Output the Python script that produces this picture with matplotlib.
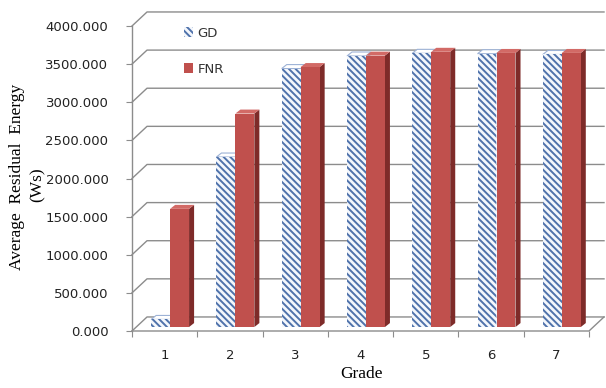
import numpy as np
import matplotlib.pyplot as plt
from matplotlib.patches import Polygon, Patch

grades = ['1', '2', '3', '4', '5', '6', '7']
gd = [100, 2230, 3390, 3555, 3590, 3585, 3575]
fnr = [1550, 2800, 3410, 3560, 3610, 3595, 3595]
yticks = np.arange(0, 4001, 500)

plt.rcParams['hatch.linewidth'] = 1.4
stripes = chr(92) * 5

W, H = 606, 388
fig = plt.figure(figsize=(W / 100, H / 100), dpi=100)
ax = fig.add_axes([132 / W, 1 - 331 / H, (589 - 132) / W, (331 - 26) / H])
ax.set_xlim(0.5, 7.5)
ax.set_ylim(0, 4000)
for s in ax.spines.values():
    s.set_visible(False)

grid_c = '#8c8c8c'
# back wall offset (fake 3d depth)
dep_x, dep_y = 0.23, 184
for v in yticks:
    ax.plot([0.5, 0.5 + dep_x, 7.5 + dep_x], [v, v + dep_y, v + dep_y],
            color=grid_c, lw=1, clip_on=False, zorder=1)
ax.plot([0.5, 7.5, 7.5 + dep_x], [0, 0, dep_y], color=grid_c, lw=1,
        clip_on=False, zorder=1)
ax.plot([0.5, 0.5], [0, 4000], color=grid_c, lw=1, clip_on=False, zorder=1)

ax.set_yticks(yticks)
ax.set_yticklabels([f'{v:.3f}' for v in yticks])
ax.tick_params(axis='y', length=4, color=grid_c, pad=13, labelsize=9.5,
               labelcolor='#222222')
ax.set_xticks(np.arange(0.5, 7.6, 1))
ax.set_xticklabels([])
ax.tick_params(axis='x', length=4, color=grid_c)
ax.set_xticks(np.arange(1, 8), minor=True)
ax.set_xticklabels(grades, minor=True)
ax.tick_params(axis='x', which='minor', length=0, pad=13, labelsize=9.5,
               labelcolor='#222222')

# bars
x = np.arange(1, 8)
bw = 0.29
sx, sy = 0.077, 52
base = 52
gd_face, gd_hatch, gd_side = '#f4f7fc', '#4f72ab', '#9db2d6'
fnr_face, fnr_side, fnr_top = '#c0504d', '#7e2b29', '#d26a66'


def bar3d(x0, v, face, side, top, hatch, z, hatch_side=None):
    x1 = x0 + bw
    top_y = base + v
    if hatch:
        ax.add_patch(Polygon([(x1, base), (x1 + sx, base + sy), (x1 + sx, top_y + sy), (x1, top_y)],
                             facecolor=face, edgecolor=hatch_side, hatch=hatch, lw=0, zorder=z))
        ax.add_patch(Polygon([(x0, top_y), (x0 + sx, top_y + sy), (x1 + sx, top_y + sy), (x1, top_y)],
                             facecolor='white', edgecolor=hatch_side, lw=0.8, zorder=z))
    else:
        ax.add_patch(Polygon([(x1, base), (x1 + sx, base + sy), (x1 + sx, top_y + sy), (x1, top_y)],
                             facecolor=side, lw=0, zorder=z))
        ax.add_patch(Polygon([(x0, top_y), (x0 + sx, top_y + sy), (x1 + sx, top_y + sy), (x1, top_y)],
                             facecolor=top, lw=0, zorder=z))


for i in range(len(x)):
    bar3d(x[i] - 0.207, gd[i], gd_face, None, None, stripes, 2.5, gd_side)
    bar3d(x[i] + 0.084, fnr[i], None, fnr_side, fnr_top, None, 3.5)

ax.bar(x - 0.207, gd, width=bw, bottom=base, align='edge', facecolor=gd_face,
       edgecolor=gd_hatch, hatch=stripes, lw=0, zorder=3)
ax.bar(x + 0.084, fnr, width=bw, bottom=base, align='edge', facecolor=fnr_face,
       lw=0, zorder=4)

handles = [Patch(facecolor=gd_face, edgecolor=gd_hatch, hatch=stripes, lw=0),
           Patch(facecolor=fnr_face, lw=0)]
fig.legend(handles, ['GD', 'FNR'], loc='upper left',
           bbox_to_anchor=(172 / W, 1 - 15 / H), frameon=False,
           handlelength=0.7, handleheight=0.8, handletextpad=0.35,
           labelspacing=1.75, fontsize=9.5, labelcolor='#333333')

fig.text(17 / W, 1 - 177 / H, 'Average  Residual  Energy', rotation=90,
         ha='center', va='center', family='Liberation Serif', fontsize=12.5)
fig.text(38 / W, 1 - 185 / H, '(Ws)', rotation=90, ha='center', va='center',
         family='Liberation Serif', fontsize=12.5)
fig.text(361 / W, 1 - 374 / H, 'Grade', ha='center', va='center',
         family='Liberation Serif', fontsize=12.5)

fig.savefig('out.png', dpi=100)
